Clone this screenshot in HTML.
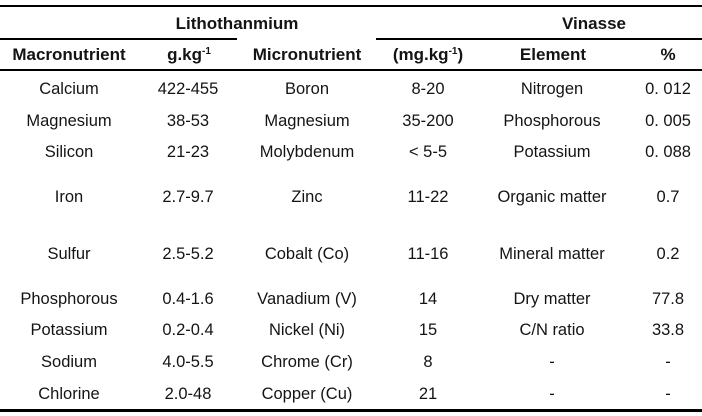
<!DOCTYPE html>
<html>
<head>
<meta charset="utf-8">
<style>
  html, body { margin:0; padding:0; background:#fff; }
  body { width:702px; height:416px; position:relative; overflow:hidden;
         font-family:"Liberation Sans", Arial, sans-serif; color:#141414; }
  .t { position:absolute; width:220px; text-align:center; height:20px; line-height:20px;
       font-size:16.5px; white-space:nowrap; }
  .b { font-weight:bold; font-size:17px; }
  .ln { position:absolute; background:#000; }
  .sup { font-size:10px; position:relative; top:-6px; }
</style>
</head>
<body>
<!-- lines -->
<div class="ln" style="left:0;top:5px;width:702px;height:2px;"></div>
<div class="ln" style="left:0;top:38px;width:237px;height:2px;"></div>
<div class="ln" style="left:376px;top:38px;width:326px;height:2px;"></div>
<div class="ln" style="left:0;top:69px;width:702px;height:2px;"></div>
<div class="ln" style="left:0;top:409px;width:702px;height:3px;"></div>

<!-- group headers -->
<div class="t b" style="left:127px;top:14px;">Lithothanmium</div>
<div class="t b" style="left:484px;top:14px;">Vinasse</div>

<!-- column headers -->
<div class="t b" style="left:-41px;top:45px;">Macronutrient</div>
<div class="t b" style="left:79px;top:45px;">g.kg<span class="sup">-1</span></div>
<div class="t b" style="left:197px;top:45px;">Micronutrient</div>
<div class="t b" style="left:318px;top:45px;">(mg.kg<span class="sup">-1</span>)</div>
<div class="t b" style="left:443px;top:45px;">Element</div>
<div class="t b" style="left:558px;top:45px;">%</div>

<!-- rows: col centers 69,188,307,428,552,668 -->
<div class="t" style="left:-41px;top:79px;">Calcium</div>
<div class="t" style="left:78px;top:79px;">422-455</div>
<div class="t" style="left:197px;top:79px;">Boron</div>
<div class="t" style="left:318px;top:79px;">8-20</div>
<div class="t" style="left:442px;top:79px;">Nitrogen</div>
<div class="t" style="left:558px;top:79px;">0. 012</div>

<div class="t" style="left:-41px;top:111px;">Magnesium</div>
<div class="t" style="left:78px;top:111px;">38-53</div>
<div class="t" style="left:197px;top:111px;">Magnesium</div>
<div class="t" style="left:318px;top:111px;">35-200</div>
<div class="t" style="left:442px;top:111px;">Phosphorous</div>
<div class="t" style="left:558px;top:111px;">0. 005</div>

<div class="t" style="left:-41px;top:142px;">Silicon</div>
<div class="t" style="left:78px;top:142px;">21-23</div>
<div class="t" style="left:197px;top:142px;">Molybdenum</div>
<div class="t" style="left:318px;top:142px;">&lt; 5-5</div>
<div class="t" style="left:442px;top:142px;">Potassium</div>
<div class="t" style="left:558px;top:142px;">0. 088</div>

<div class="t" style="left:-41px;top:187px;">Iron</div>
<div class="t" style="left:78px;top:187px;">2.7-9.7</div>
<div class="t" style="left:197px;top:187px;">Zinc</div>
<div class="t" style="left:318px;top:187px;">11-22</div>
<div class="t" style="left:442px;top:187px;">Organic matter</div>
<div class="t" style="left:558px;top:187px;">0.7</div>

<div class="t" style="left:-41px;top:244px;">Sulfur</div>
<div class="t" style="left:78px;top:244px;">2.5-5.2</div>
<div class="t" style="left:197px;top:244px;">Cobalt (Co)</div>
<div class="t" style="left:318px;top:244px;">11-16</div>
<div class="t" style="left:442px;top:244px;">Mineral matter</div>
<div class="t" style="left:558px;top:244px;">0.2</div>

<div class="t" style="left:-41px;top:289px;">Phosphorous</div>
<div class="t" style="left:78px;top:289px;">0.4-1.6</div>
<div class="t" style="left:197px;top:289px;">Vanadium (V)</div>
<div class="t" style="left:318px;top:289px;">14</div>
<div class="t" style="left:442px;top:289px;">Dry matter</div>
<div class="t" style="left:558px;top:289px;">77.8</div>

<div class="t" style="left:-41px;top:320px;">Potassium</div>
<div class="t" style="left:78px;top:320px;">0.2-0.4</div>
<div class="t" style="left:197px;top:320px;">Nickel (Ni)</div>
<div class="t" style="left:318px;top:320px;">15</div>
<div class="t" style="left:442px;top:320px;">C/N ratio</div>
<div class="t" style="left:558px;top:320px;">33.8</div>

<div class="t" style="left:-41px;top:352px;">Sodium</div>
<div class="t" style="left:78px;top:352px;">4.0-5.5</div>
<div class="t" style="left:197px;top:352px;">Chrome (Cr)</div>
<div class="t" style="left:318px;top:352px;">8</div>
<div class="t" style="left:442px;top:352px;">-</div>
<div class="t" style="left:558px;top:352px;">-</div>

<div class="t" style="left:-41px;top:384px;">Chlorine</div>
<div class="t" style="left:78px;top:384px;">2.0-48</div>
<div class="t" style="left:197px;top:384px;">Copper (Cu)</div>
<div class="t" style="left:318px;top:384px;">21</div>
<div class="t" style="left:442px;top:384px;">-</div>
<div class="t" style="left:558px;top:384px;">-</div>
</body>
</html>
